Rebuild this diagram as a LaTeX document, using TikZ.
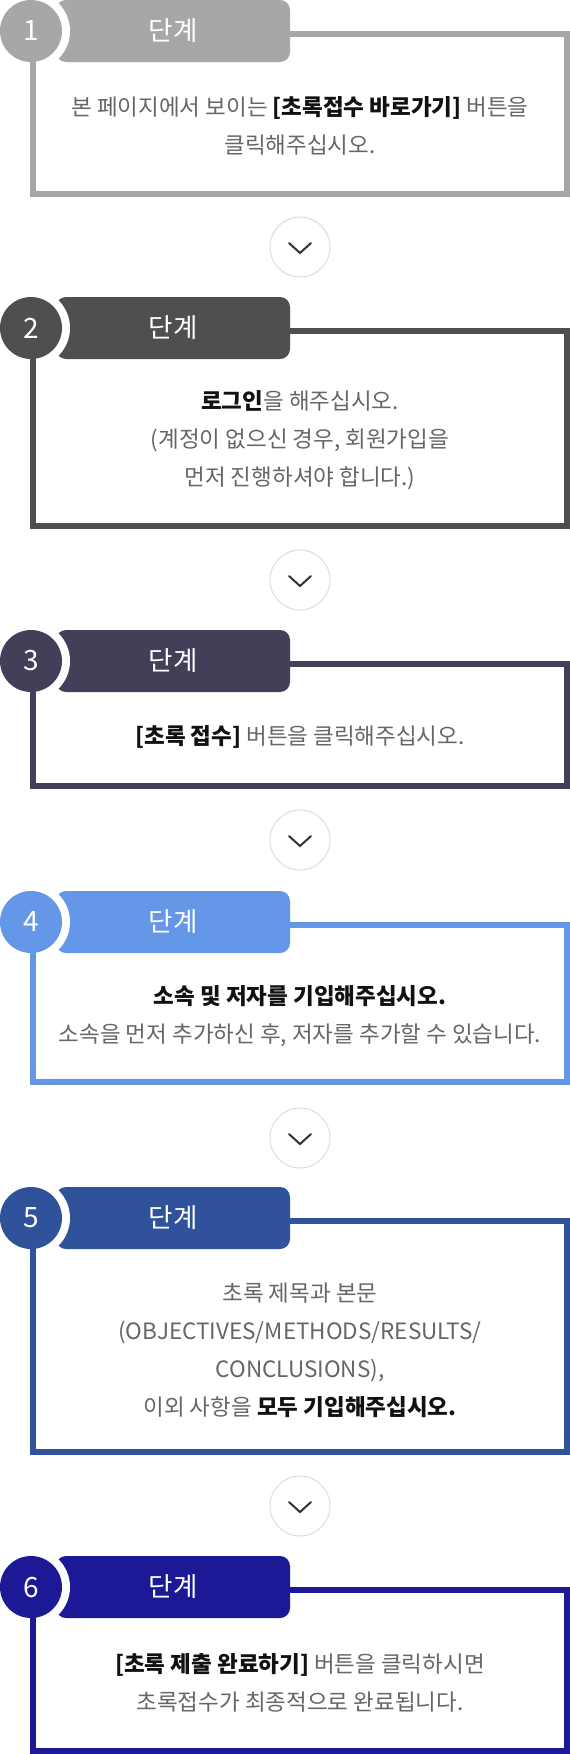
\documentclass[tikz,border=0pt]{standalone}
\usepackage{fontspec}
\setmainfont{Noto Sans CJK KR}
\definecolor{cA}{HTML}{A7A7A9}
\definecolor{cB}{HTML}{4F4F4F}
\definecolor{cC}{HTML}{433F58}
\definecolor{cD}{HTML}{6497E8}
\definecolor{cE}{HTML}{30529A}
\definecolor{cF}{HTML}{1D1996}
\definecolor{txtgray}{HTML}{666666}
\definecolor{txtblack}{HTML}{111111}
\definecolor{ringgray}{HTML}{DDDDDD}
\definecolor{chevgray}{HTML}{333333}
\newcommand{\kb}[1]{{\color{txtblack}\bfseries #1}}
\tikzset{
  stepbox/.style={draw, line width=6pt, minimum width=534pt, inner sep=0pt, outer sep=0pt, rectangle},
  steptab/.style={rectangle, rounded corners=10pt, minimum width=234pt, minimum height=62pt, inner sep=0pt, outer sep=0pt, text=white, font=\fontsize{26.5pt}{30pt}\selectfont},
  stepnum/.style={circle, minimum size=62pt, inner sep=0pt, outer sep=0pt, text=white, font=\fontsize{28pt}{30pt}\selectfont},
  bodytext/.style={align=center, text=txtgray, inner sep=0pt, font=\fontsize{22.5pt}{38pt}\selectfont},
  chev/.style={circle, draw=ringgray, line width=1pt, fill=white, minimum size=60pt, inner sep=0pt},
  chevline/.style={draw=chevgray, line width=2pt, line cap=round, line join=miter}
}
\newcommand{\drawstep}[5]{%
  \pgfmathsetmacro{\cy}{#3+31}%
  \pgfmathsetmacro{\bx}{#3+34}%
  \pgfmathsetmacro{\bh}{#4-#3-37}%
  \node[stepbox, draw=#2, minimum height=\bh pt, anchor=north] (box#1) at (300,\bx) {};
  \node[steptab, fill=#2] (tab#1) at (173,\cy) {단계};
  \begin{scope}
    \clip (tab#1.north west) rectangle (tab#1.south east);
    \fill[white] (31,\cy) circle[radius=39pt];
  \end{scope}
  \node[stepnum, fill=#2] (num#1) at (31,\cy) {#5};
}
\newcommand{\drawchev}[2]{%
  \node[chev] (chev#1) at (300,#2) {};
  \draw[chevline] ([shift={(-11pt,4pt)}]chev#1.center) -- ([shift={(0pt,-6pt)}]chev#1.center) -- ([shift={(11pt,4pt)}]chev#1.center);
}
\begin{document}
\begin{tikzpicture}[x=1pt,y=-1pt]
\useasboundingbox (0,0) rectangle (570,1754);
\fill[white] (0,0) rectangle (570,1754);

\drawstep{1}{cA}{0}{197}{1}
\node[bodytext] (txt1) at (300,126) {본 페이지에서 보이는 \kb{[초록접수 바로가기]} 버튼을\\클릭해주십시오.};

\drawchev{1}{247}

\drawstep{2}{cB}{297}{529}{2}
\node[bodytext] (txt2) at (300,440) {\kb{로그인}을 해주십시오.\\(계정이 없으신 경우, 회원가입을\\먼저 진행하셔야 합니다.)};

\drawchev{2}{580}

\drawstep{3}{cC}{630}{789}{3}
\node[bodytext] (txt3) at (300,737) {\kb{[초록 접수]} 버튼을 클릭해주십시오.};

\drawchev{3}{840}

\drawstep{4}{cD}{891}{1085}{4}
\node[bodytext] (txt4) at (300,1016) {\kb{소속 및 저자를 기입해주십시오.}\\소속을 먼저 추가하신 후, 저자를 추가할 수 있습니다.};

\drawchev{4}{1138}

\drawstep{5}{cE}{1187}{1455}{5}
\node[bodytext] (txt5) at (300,1350) {초록 제목과 본문\\(OBJECTIVES/METHODS/RESULTS/\\CONCLUSIONS),\\이외 사항을 \kb{모두 기입해주십시오.}};

\drawchev{5}{1506}

\drawstep{6}{cF}{1556}{1754}{6}
\node[bodytext] (txt6) at (300,1683) {\kb{[초록 제출 완료하기]} 버튼을 클릭하시면\\초록접수가 최종적으로 완료됩니다.};
\end{tikzpicture}
\end{document}
